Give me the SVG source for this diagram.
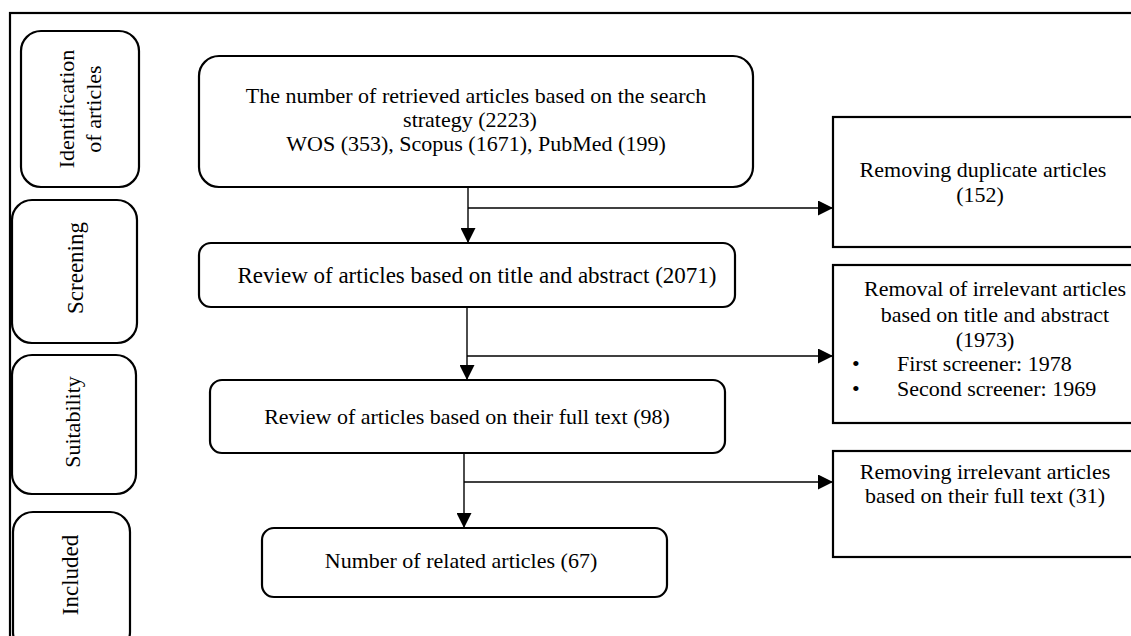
<svg xmlns="http://www.w3.org/2000/svg" width="1131" height="636" viewBox="0 0 1131 636">
<style>
.frame{fill:none;stroke:#000;stroke-width:2.2}
.rbox{fill:#fff;stroke:#000;stroke-width:2.2}
.sbox{fill:#fff;stroke:#000;stroke-width:2.2}
.t{font-family:"Liberation Serif","Times New Roman",serif;font-size:22px;fill:#000;text-anchor:middle}
.tl{font-family:"Liberation Serif","Times New Roman",serif;font-size:22px;fill:#000}
.c{fill:none;stroke:#000;stroke-width:1.4}
</style>
<defs>
<marker id="ah" markerUnits="userSpaceOnUse" markerWidth="15" markerHeight="15" viewBox="0 0 10 10" refX="10" refY="5" orient="auto">
<path d="M0,0 L10,5 L0,10 z" fill="#000"/>
</marker>
</defs>
<rect width="1131" height="636" fill="#fff"/>
<rect class="frame" x="10" y="13" width="1130" height="640"/>

<g id="stage-identification">
<rect class="sbox" x="21" y="31" width="118" height="156" rx="20"/>
<text class="t" transform="translate(74,109) rotate(-90)">Identification</text>
<text class="t" transform="translate(101,109) rotate(-90)">of articles</text>
</g>
<g id="stage-screening">
<rect class="sbox" x="12" y="200" width="125" height="143" rx="20"/>
<text class="t" style="font-size:23px" transform="translate(83,268) rotate(-90)">Screening</text>
</g>
<g id="stage-suitability">
<rect class="sbox" x="12" y="355" width="124" height="139" rx="20"/>
<text class="t" transform="translate(80,422) rotate(-90)">Suitability</text>
</g>
<g id="stage-included">
<rect class="sbox" x="13" y="512" width="117" height="140" rx="20"/>
<text class="t" style="font-size:23px" transform="translate(78,575) rotate(-90)">Included</text>
</g>

<g id="retrieved">
<rect class="rbox" x="199" y="56" width="554" height="131" rx="20"/>
<text class="t" x="476" y="103">The number of retrieved articles based on the search</text>
<text class="t" x="470" y="127">strategy (2223)</text>
<text class="t" x="476" y="151">WOS (353), Scopus (1671), PubMed (199)</text>
</g>
<g id="review-title">
<rect class="rbox" x="199" y="243" width="536" height="64" rx="12"/>
<text class="t" style="font-size:23px" x="477" y="283">Review of articles based on title and abstract (2071)</text>
</g>
<g id="review-fulltext">
<rect class="rbox" x="210" y="380" width="515" height="73" rx="12"/>
<text class="t" x="467" y="424">Review of articles based on their full text (98)</text>
</g>
<g id="related">
<rect class="rbox" x="262" y="528" width="405" height="69" rx="12"/>
<text class="t" x="461" y="568">Number of related articles (67)</text>
</g>

<g id="duplicates">
<rect class="rbox" x="833" y="117" width="310" height="130"/>
<text class="t" x="983" y="177">Removing duplicate articles</text>
<text class="t" x="980" y="202">(152)</text>
</g>
<g id="irrelevant-title">
<rect class="rbox" x="833" y="265" width="310" height="158"/>
<text class="t" x="995" y="296">Removal of irrelevant articles</text>
<text class="t" x="995" y="322">based on title and abstract</text>
<text class="t" x="985" y="347">(1973)</text>
<text class="tl" x="852" y="371">•</text>
<text class="tl" x="897" y="371">First screener: 1978</text>
<text class="tl" x="852" y="396">•</text>
<text class="tl" x="897" y="396">Second screener: 1969</text>
</g>
<g id="irrelevant-fulltext">
<rect class="rbox" x="833" y="451" width="310" height="106"/>
<text class="t" x="985" y="479">Removing irrelevant articles</text>
<text class="t" x="985" y="503">based on their full text (31)</text>
</g>

<g id="connectors">
<line class="c" x1="468" y1="187" x2="468" y2="243" marker-end="url(#ah)"/>
<line class="c" x1="468" y1="208" x2="833" y2="208" marker-end="url(#ah)"/>
<line class="c" x1="467" y1="307" x2="467" y2="380" marker-end="url(#ah)"/>
<line class="c" x1="467" y1="356" x2="833" y2="356" marker-end="url(#ah)"/>
<line class="c" x1="464" y1="453" x2="464" y2="528" marker-end="url(#ah)"/>
<line class="c" x1="464" y1="482" x2="833" y2="482" marker-end="url(#ah)"/>
</g>
</svg>
